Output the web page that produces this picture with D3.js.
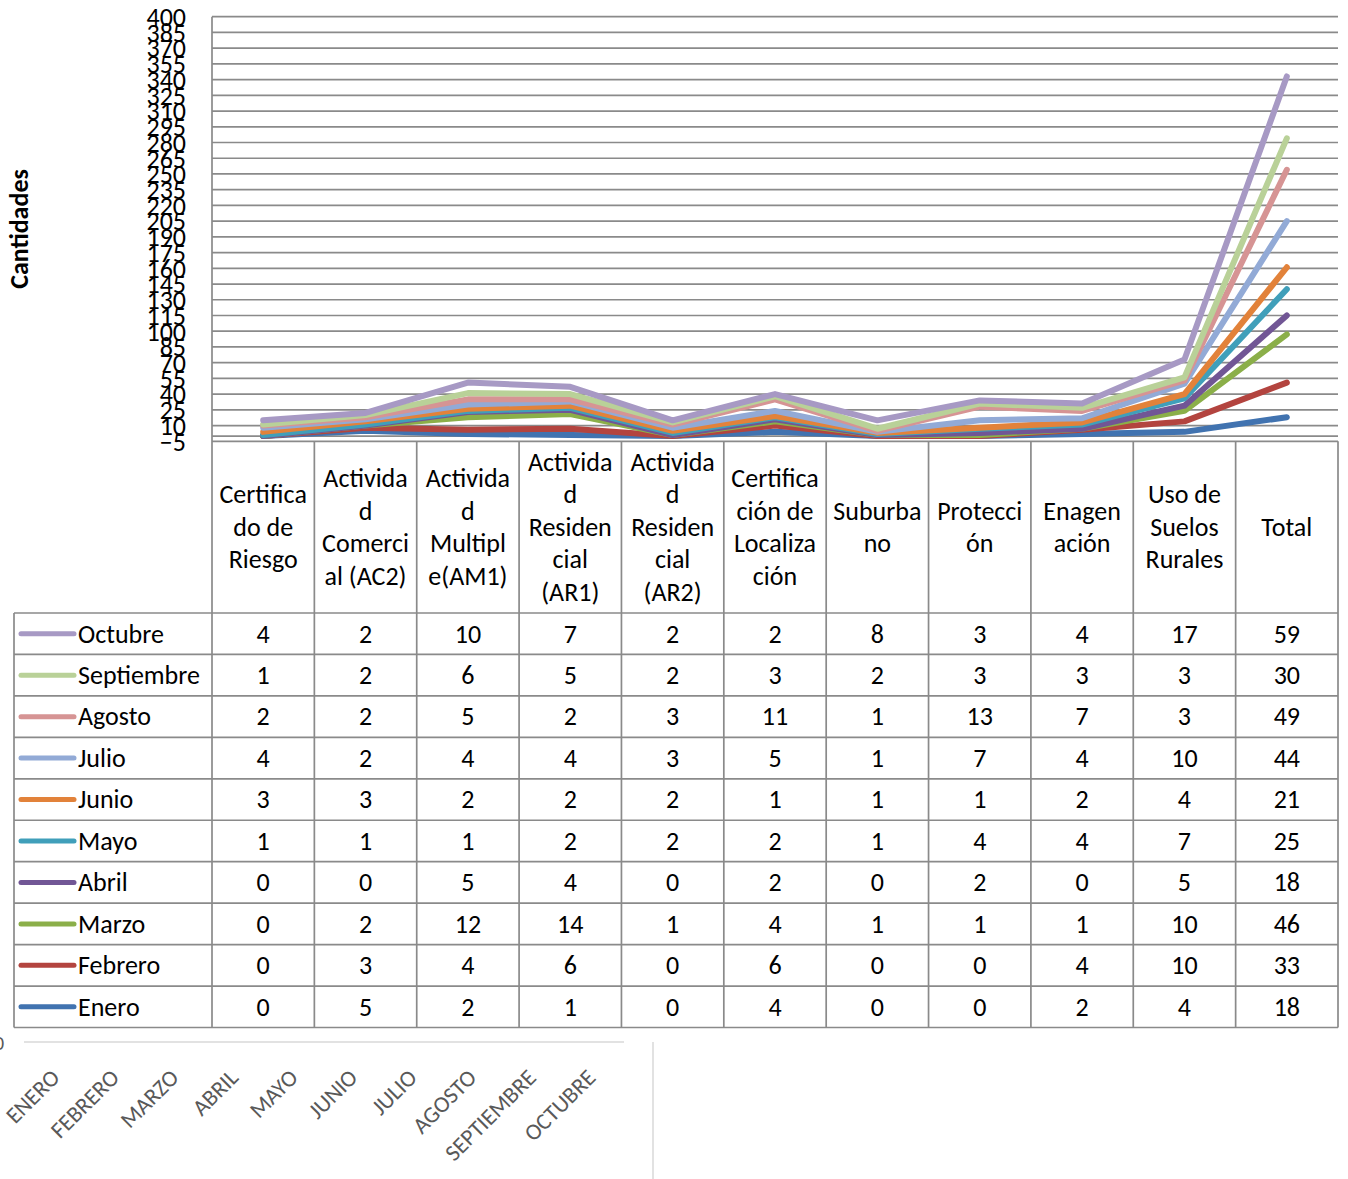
<!DOCTYPE html>
<html>
<head>
<meta charset="utf-8">
<script src="https://cdn.jsdelivr.net/npm/d3@7"></script>
<style>
  html, body { margin: 0; padding: 0; background: #fff; }
  svg { display: block; }
  text { font-family: Carlito, Lato, "Open Sans", sans-serif; }
</style>
</head>
<body>
<svg id="chart" width="1348" height="1179"></svg>
<script>
// ---------- DATA ----------
const categories = [
  ["Certifica", "do de", "Riesgo"],
  ["Activida", "d", "Comerci", "al (AC2)"],
  ["Activida", "d", "Multipl", "e(AM1)"],
  ["Activida", "d", "Residen", "cial", "(AR1)"],
  ["Activida", "d", "Residen", "cial", "(AR2)"],
  ["Certifica", "ción de", "Localiza", "ción"],
  ["Suburba", "no"],
  ["Protecci", "ón"],
  ["Enagen", "ación"],
  ["Uso de", "Suelos", "Rurales"],
  ["Total"]
];
const months = ["Enero", "Febrero", "Marzo", "Abril", "Mayo", "Junio", "Julio", "Agosto", "Septiembre", "Octubre"];
const enero      = [0, 5, 2, 1, 0, 4, 0, 0, 2, 4, 18];
const febrero    = [0, 3, 4, 6, 0, 6, 0, 0, 4, 10, 33];
const marzo      = [0, 2, 12, 14, 1, 4, 1, 1, 1, 10, 46];
const abril      = [0, 0, 5, 4, 0, 2, 0, 2, 0, 5, 18];
const mayo       = [1, 1, 1, 2, 2, 2, 1, 4, 4, 7, 25];
const junio      = [3, 3, 2, 2, 2, 1, 1, 1, 2, 4, 21];
const julio      = [4, 2, 4, 4, 3, 5, 1, 7, 4, 10, 44];
const agosto     = [2, 2, 5, 2, 3, 11, 1, 13, 7, 3, 49];
const septiembre = [1, 2, 6, 5, 2, 3, 2, 3, 3, 3, 30];
const octubre    = [4, 2, 10, 7, 2, 2, 8, 3, 4, 17, 59];
const seriesValues = [enero, febrero, marzo, abril, mayo, junio, julio, agosto, septiembre, octubre];
const colors = ["#4173B0", "#B3443F", "#8BAF49", "#715695", "#409FBA", "#E2823A", "#92AAD6", "#D69494", "#B9D198", "#A799C4"];
const yTicks = d3.range(-5, 401, 15);
const yTitle = "Cantidades";
const bottomLabels = ["ENERO", "FEBRERO", "MARZO", "ABRIL", "MAYO", "JUNIO", "JULIO", "AGOSTO", "SEPTIEMBRE", "OCTUBRE"];

// ---------- LAYOUT ----------
const svg = d3.select("#chart");
const plotL = 212, plotR = 1338, plotT = 16.7, plotB = 441.3;
const tableTop = 441.3, headerBottom = 613, rowH = 41.45;
const legendL = 14;
const fontSize = 26;
const gridColor = "#8a8a8a";

const x = d3.scaleBand().domain(d3.range(categories.length)).range([plotL, plotR]).padding(0);
const y = d3.scaleLinear().domain([-5, 400]).range([plotB, plotT]);

// gridlines
svg.append("g").selectAll("line").data(yTicks).join("line")
  .attr("x1", plotL).attr("x2", plotR)
  .attr("y1", d => y(d)).attr("y2", d => y(d))
  .attr("stroke", gridColor).attr("stroke-width", 1.7);
// category axis line crossing at 0
svg.append("line").attr("x1", plotL).attr("x2", plotR)
  .attr("y1", y(0)).attr("y2", y(0))
  .attr("stroke", gridColor).attr("stroke-width", 1.7);

// y axis
const yAxis = svg.append("g").attr("transform", `translate(${plotL},0)`)
  .call(d3.axisLeft(y).tickValues(yTicks).tickSize(0).tickPadding(26));
yAxis.select(".domain").remove();
yAxis.selectAll("text").attr("font-size", fontSize).attr("fill", "#000")
  .attr("dy", "0.34em")
  .style("font-family", "Carlito, Lato, sans-serif");

// axis title
svg.append("text")
  .attr("transform", `translate(28,${229}) rotate(-90)`)
  .attr("text-anchor", "middle")
  .attr("font-size", 26).attr("font-weight", "bold")
  .text(yTitle);

// stacked lines
const stacked = [];
let acc = categories.map(() => 0);
seriesValues.forEach(vals => {
  acc = acc.map((a, i) => a + vals[i]);
  stacked.push(acc.slice());
});
const line = d3.line().x((d, i) => x(i) + x.bandwidth() / 2).y(d => y(d));
svg.append("g").selectAll("path").data(stacked).join("path")
  .attr("d", d => line(d))
  .attr("fill", "none")
  .attr("stroke", (d, i) => colors[i])
  .attr("stroke-width", 6)
  .attr("stroke-linecap", "round")
  .attr("stroke-linejoin", "round");

// ---------- DATA TABLE ----------
const tableBottom = headerBottom + rowH * months.length;
const tg = svg.append("g");
const colEdges = d3.range(categories.length + 1).map(i => plotL + i * x.bandwidth());
tg.selectAll("line.v").data(colEdges).join("line").attr("class", "v")
  .attr("x1", d => d).attr("x2", d => d)
  .attr("y1", (d, i) => i === 0 ? plotT : tableTop).attr("y2", tableBottom)
  .attr("stroke", gridColor).attr("stroke-width", 1.7);
tg.append("line").attr("x1", legendL).attr("x2", legendL)
  .attr("y1", headerBottom).attr("y2", tableBottom)
  .attr("stroke", gridColor).attr("stroke-width", 1.7);
const rowEdges = d3.range(months.length + 1).map(i => headerBottom + i * rowH);
tg.selectAll("line.h").data(rowEdges).join("line").attr("class", "h")
  .attr("x1", legendL).attr("x2", plotR)
  .attr("y1", d => d).attr("y2", d => d)
  .attr("stroke", gridColor).attr("stroke-width", 1.7);

// header text
const lineGap = 32.5;
const headerMid = (tableTop + headerBottom) / 2;
categories.forEach((lines, ci) => {
  const cx = x(ci) + x.bandwidth() / 2;
  const t = tg.append("text").attr("text-anchor", "middle").attr("font-size", fontSize);
  lines.forEach((ln, k) => {
    t.append("tspan").attr("x", cx)
      .attr("y", headerMid + (k - (lines.length - 1) / 2) * lineGap)
      .attr("dy", "0.34em").text(ln);
  });
});

// rows: Octubre on top
const rowOrder = d3.range(months.length).reverse();
rowOrder.forEach((si, r) => {
  const cy = headerBottom + (r + 0.5) * rowH;
  tg.append("line").attr("x1", 21).attr("x2", 74).attr("y1", cy).attr("y2", cy)
    .attr("stroke", colors[si]).attr("stroke-width", 5).attr("stroke-linecap", "round");
  tg.append("text").attr("x", 78).attr("y", cy).attr("dy", "0.34em")
    .attr("font-size", fontSize).text(months[si]);
  seriesValues[si].forEach((v, ci) => {
    tg.append("text").attr("x", x(ci) + x.bandwidth() / 2).attr("y", cy).attr("dy", "0.34em")
      .attr("text-anchor", "middle").attr("font-size", fontSize).text(v);
  });
});

// ---------- leftover bottom fragments ----------
svg.append("line").attr("x1", 24).attr("x2", 624).attr("y1", 1042).attr("y2", 1042)
  .attr("stroke", "#d9d9d9").attr("stroke-width", 1.5);
svg.append("line").attr("x1", 653).attr("x2", 653).attr("y1", 1042).attr("y2", 1179)
  .attr("stroke", "#d9d9d9").attr("stroke-width", 1.5);
svg.append("text").attr("x", -6).attr("y", 1050).attr("font-size", 20).attr("fill", "#595959").text("0");
const bx = d3.scalePoint().domain(bottomLabels).range([61, 597]);
svg.append("g").selectAll("text").data(bottomLabels).join("text")
  .attr("transform", d => `translate(${bx(d)},1079) rotate(-45)`)
  .attr("text-anchor", "end")
  .attr("font-size", 23).attr("fill", "#595959")
  .text(d => d);
</script>
</body>
</html>
